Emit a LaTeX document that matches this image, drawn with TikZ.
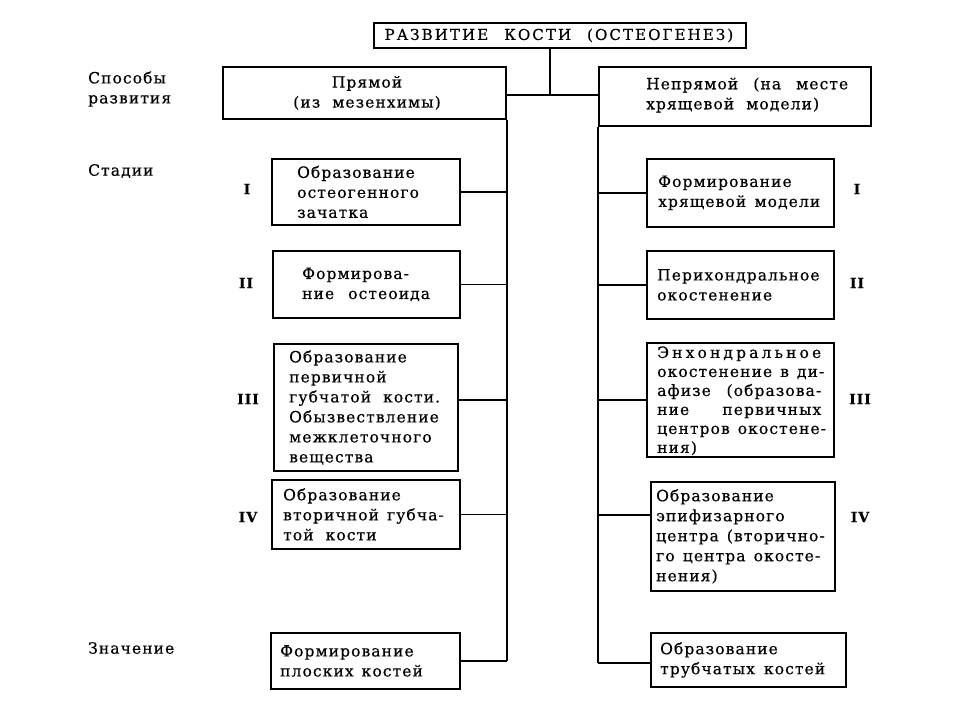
\documentclass[tikz,border=0pt]{standalone}
\usepackage{fontspec}
\setmainfont[LetterSpace=7,FakeBold=0.5,WordSpace=2]{DejaVu Serif}
\newcommand{\jl}[1]{\makebox[164pt][s]{#1}}
\begin{document}
\begin{tikzpicture}[x=1pt,y=-1pt,
  box/.style={draw, line width=1.8pt, inner sep=0pt, anchor=north west},
  conn/.style={line width=1.4pt},
  txt/.style={font=\fontsize{15.5}{20}\selectfont, align=left, inner sep=0pt, anchor=west},
  tight/.style={font=\fontsize{15.5}{19}\selectfont},
  num/.style={font=\fontsize{14}{16}\selectfont\bfseries, inner sep=0pt},
  side/.style={font=\fontsize{15.5}{20}\selectfont, align=left, inner sep=0pt, anchor=west}]
\useasboundingbox (0,0) rectangle (960,720);
\fill[white] (0,0) rectangle (960,720);
% boxes
\node[box, minimum width=372pt, minimum height=25pt] (title) at (373,22) {};
\node[font=\fontsize{15}{16}\selectfont\addfontfeature{LetterSpace=14}, inner sep=0pt] (titlet) at ([xshift=-1pt]title.center) {РАЗВИТИЕ\hspace{16pt}КОСТИ\hspace{16pt}(ОСТЕОГЕНЕЗ)};
\node[box, minimum width=283pt, minimum height=52pt] (lp) at (222,66) {};
\node[txt, align=center, anchor=center] (lpt) at (367,93) {Прямой\\(из мезенхимы)};
\node[box, minimum width=272pt, minimum height=59pt] (rp) at (598,66) {};
\node[txt] (rpt) at (646,95) {\makebox[202pt][s]{Непрямой (на месте}\\хрящевой модели)};
\node[box, minimum width=188pt, minimum height=66pt] (l1) at (271,158) {};
\node[box, minimum width=187pt, minimum height=67pt] (l2) at (272,250) {};
\node[box, minimum width=184pt, minimum height=127pt] (l3) at (273,343) {};
\node[box, minimum width=188pt, minimum height=69pt] (l4) at (271,479) {};
\node[box, minimum width=189pt, minimum height=56pt] (l5) at (270,632) {};
\node[box, minimum width=187pt, minimum height=68pt] (r1) at (646,158) {};
\node[box, minimum width=187pt, minimum height=68pt] (r2) at (646,250) {};
\node[box, minimum width=187pt, minimum height=114pt] (r3) at (646,342) {};
\node[box, minimum width=184pt, minimum height=109pt] (r4) at (650,481) {};
\node[box, minimum width=195pt, minimum height=54pt] (r5) at (650,632) {};
% texts
\node[txt] (l1t) at ([xshift=26pt]l1.west) {Образование\\остеогенного\\зачатка};
\node[txt] (l2t) at ([xshift=30pt]l2.west) {Формирова-\\ние\hspace{14pt}остеоида};
\node[txt] (l3t) at ([xshift=16pt]l3.west) {Образование\\первичной\\губчатой кости.\\Обызвествление\\межклеточного\\вещества};
\node[txt] (l4t) at ([xshift=12pt]l4.west) {Образование\\\makebox[157pt][s]{вторичной губча-}\\той кости};
\node[txt] (l5t) at ([xshift=10pt]l5.west) {Формирование\\\makebox[138pt][s]{плоских костей}};
\node[txt] (r1t) at ([xshift=12pt]r1.west) {Формирование\\\makebox[162pt][s]{хрящевой модели}};
\node[txt] (r2t) at ([xshift=11pt]r2.west) {Перихондральное\\окостенение};
\node[txt, tight] (r3t) at ([xshift=11pt, yshift=-1pt]r3.west) {\jl{Э\hfill н\hfill х\hfill о\hfill н\hfill д\hfill р\hfill а\hfill л\hfill ь\hfill н\hfill о\hfill е}\\\jl{окостенение в ди-}\\\jl{афизе (образова-}\\\jl{ние первичных}\\\jl{центров окостене-}\\ния)};
\node[txt] (r4t) at ([xshift=6pt]r4.west) {Образование\\эпифизарного\\\jl{центра (вторично-}\\\jl{го центра окосте-}\\нения)};
\node[txt] (r5t) at ([xshift=10pt]r5.west) {Образование\\\makebox[165pt][s]{трубчатых костей}};
% side labels
\node[side] (s1) at (88,89) {Способы\\развития};
\node[side] (s2) at (88,171) {Стадии};
\node[side] (s3) at (88,648) {Значение};
% numerals
\node[num] (nl1) at (247,189) {I};
\node[num] (nl2) at (246,283) {II};
\node[num] (nl3) at (248,399) {III};
\node[num] (nl4) at (248,517) {IV};
\node[num] (nr1) at (857,189) {I};
\node[num] (nr2) at (857,283) {II};
\node[num] (nr3) at (860,399) {III};
\node[num] (nr4) at (860,517) {IV};
% connectors
\coordinate (j) at (550,95);
\draw[conn] (title.south -| j) -- (j);
\draw[conn] (lp.east |- j) -- (rp.west |- j);
\draw[conn] (lp.south east) -- (lp.south east |- l5.east);
\draw[conn] (l1.east) -- (l1.east -| lp.east);
\draw[conn] (l2.east) -- (l2.east -| lp.east);
\draw[conn] ([yshift=7.5pt]l3.east) -- ([yshift=7.5pt]l3.east -| lp.east);
\draw[conn] (l4.east) -- (l4.east -| lp.east);
\draw[conn] (l5.east) -- (l5.east -| lp.east);
\draw[conn] (rp.south west) -- ([yshift=-3pt]rp.south west |- r5.west);
\draw[conn] (r1.west -| rp.west) -- (r1.west);
\draw[conn] (r2.west -| rp.west) -- (r2.west);
\draw[conn] (r3.west -| rp.west) -- (r3.west);
\draw[conn] ([yshift=21.5pt]r4.west -| rp.west) -- ([yshift=21.5pt]r4.west);
\draw[conn] ([yshift=-3pt]r5.west -| rp.west) -- ([yshift=-3pt]r5.west);
\end{tikzpicture}
\end{document}
